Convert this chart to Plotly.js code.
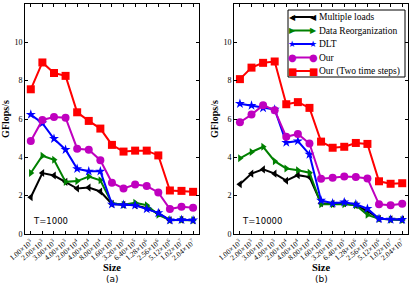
<!DOCTYPE html>
<html><head><meta charset="utf-8">
<script src="https://cdn.plot.ly/plotly-3.0.1.min.js"></script>
<style>html,body{margin:0;padding:0;background:#fff}#c{width:415px;height:285px}</style>
</head><body><div id="c"></div>
<script>
const sizeLabels = ["1.00×10<sup>3</sup>","2.00×10<sup>3</sup>","3.00×10<sup>3</sup>","4.00×10<sup>3</sup>","2.00×10<sup>4</sup>","4.00×10<sup>4</sup>","8.00×10<sup>4</sup>","1.60×10<sup>5</sup>","3.20×10<sup>5</sup>","6.40×10<sup>5</sup>","1.28×10<sup>6</sup>","2.56×10<sup>6</sup>","5.12×10<sup>6</sup>","1.02×10<sup>7</sup>","2.04×10<sup>7</sup>"];
const seriesNames = ["Multiple loads","Data Reorganization","DLT","Our","Our (Two time steps)"];

// Panel (a) T=1000
const multiA = [1.92,3.18,3.05,2.72,2.37,2.42,2.22,1.57,1.52,1.5,1.35,1.08,0.72,0.74,0.72];
const reorgA = [3.18,4.08,3.87,2.72,2.76,3.0,2.8,1.6,1.53,1.63,1.5,1.0,0.73,0.74,0.72];
const dltA   = [6.23,5.78,4.97,4.4,3.4,3.27,3.27,1.55,1.52,1.5,1.3,1.1,0.72,0.74,0.72];
const ourA   = [4.85,5.95,6.1,6.07,4.45,4.4,3.85,2.68,2.38,2.58,2.5,2.17,1.3,1.42,1.37];
const our2A  = [7.55,8.95,8.4,8.25,6.35,5.9,5.5,4.65,4.3,4.35,4.35,4.1,2.27,2.25,2.2];

// Panel (b) T=10000
const multiB = [2.6,3.15,3.37,3.15,2.78,3.07,2.97,1.6,1.57,1.6,1.5,1.2,0.8,0.77,0.75];
const reorgB = [3.95,4.28,4.55,3.8,3.42,3.33,3.2,1.55,1.55,1.55,1.5,1.0,0.8,0.75,0.73];
const dltB   = [6.8,6.7,6.58,6.5,4.77,4.85,4.15,1.75,1.6,1.66,1.55,1.32,0.8,0.76,0.75];
const ourB   = [5.83,6.23,6.72,6.45,5.07,5.22,4.72,2.88,2.93,3.0,2.97,2.9,1.55,1.5,1.58];
const our2B  = [8.08,8.68,8.93,9.0,6.77,6.88,6.58,4.82,4.5,4.55,4.75,4.7,2.75,2.62,2.65];

const xIdx = sizeLabels.map((_, i) => i);
const styles = [
  {color:'#000000', symbol:'triangle-left', size:7, glyph:'◀', gsize:8},
  {color:'#008000', symbol:'triangle-right', size:7, glyph:'▶', gsize:8},
  {color:'#0000ff', symbol:'star', size:7.5, glyph:'★', gsize:9},
  {color:'#bf00bf', symbol:'circle', size:8, glyph:'●', gsize:10},
  {color:'#ff0000', symbol:'square', size:8, glyph:'■', gsize:10}
];
const dataA = [multiA, reorgA, dltA, ourA, our2A];
const dataB = [multiB, reorgB, dltB, ourB, our2B];
const traces = [];
function mk(ys, k, xa, ya) {
  return {x:xIdx, y:ys, type:'scatter', mode:'lines+markers', name:seriesNames[k],
    xaxis:xa, yaxis:ya, showlegend:false,
    line:{color:styles[k].color, width:2},
    marker:{color:styles[k].color, symbol:styles[k].symbol, size:styles[k].size, line:{width:0}}};
}
dataA.forEach((ys,k)=>traces.push(mk(ys,k,'x','y')));
dataB.forEach((ys,k)=>traces.push(mk(ys,k,'x2','y2')));

const serif = 'Liberation Serif, DejaVu Serif, serif';
function xax(domain, anchor) {
  return {domain:domain, anchor:anchor, range:[-0.5,14.5], tickmode:'array', tickvals:xIdx, ticktext:sizeLabels,
    tickangle:-40, tickfont:{family:serif, size:7.5, color:'#000'}, ticks:'inside', ticklen:3, tickcolor:'#000',
    showline:true, linecolor:'#000', linewidth:1, mirror:'allticks', showgrid:false, zeroline:false,
    title:{text:'Size', font:{family:serif, size:10.5, color:'#000', weight:'bold'}, standoff:0}};
}
function yax(anchor) {
  return {anchor:anchor, range:[0,12], dtick:2, tick0:0, tickfont:{family:serif, size:8, color:'#000'},
    ticks:'inside', ticklen:3, tickcolor:'#000', showline:true, linecolor:'#000', linewidth:1, mirror:'allticks',
    showgrid:false, zeroline:false,
    title:{text:'GFlops/s', font:{family:serif, size:10, color:'#000', weight:'bold'}, standoff:3}};
}

// custom compact legend (layout decoration, in pixel positions converted to paper)
const M = {l:25, r:7, t:4, b:51}, W = 415, H = 285;
const pw = W - M.l - M.r, ph = H - M.t - M.b;
const px = X => (X - M.l) / pw, py = Y => (H - M.b - Y) / ph;
const shapes = [{type:'rect', xref:'paper', yref:'paper', x0:px(288), x1:px(405), y0:py(10), y1:py(77),
  fillcolor:'#fff', line:{color:'#000', width:1}, layer:'above'}];
const annotations = [];
const rowY = [17, 30.5, 44, 57.5, 71];
seriesNames.forEach((nm, k) => {
  const s = styles[k];
  shapes.push({type:'line', xref:'paper', yref:'paper', x0:px(292), x1:px(313), y0:py(rowY[k]), y1:py(rowY[k]),
    line:{color:s.color, width:2}, layer:'above'});
  [292, 313].forEach(gx => annotations.push({xref:'paper', yref:'paper', x:px(gx), y:py(rowY[k]), xanchor:'center', yanchor:'middle',
    text:s.glyph, showarrow:false, borderpad:0, font:{family:'DejaVu Sans, sans-serif', size:s.gsize, color:s.color}}));
  annotations.push({xref:'paper', yref:'paper', x:px(318), y:py(rowY[k]), xanchor:'left', yanchor:'middle',
    text:nm, showarrow:false, borderpad:0, font:{family:serif, size:9.5, color:'#000'}});
});
annotations.push(
  {xref:'x', yref:'y', x:0.0, y:0.7, xanchor:'left', yanchor:'middle', text:'T=1000', showarrow:false,
   font:{family:'DejaVu Sans, sans-serif', size:8.5, color:'#000'}},
  {xref:'x2', yref:'y2', x:0.0, y:0.7, xanchor:'left', yanchor:'middle', text:'T=10000', showarrow:false,
   font:{family:'DejaVu Sans, sans-serif', size:8.5, color:'#000'}},
  {xref:'paper', yref:'paper', x:px(112), y:py(278.5), xanchor:'center', yanchor:'middle', text:'(a)', showarrow:false,
   borderpad:0, font:{family:'DejaVu Sans, sans-serif', size:9, color:'#000'}},
  {xref:'paper', yref:'paper', x:px(321), y:py(278.5), xanchor:'center', yanchor:'middle', text:'(b)', showarrow:false,
   borderpad:0, font:{family:'DejaVu Sans, sans-serif', size:9, color:'#000'}}
);

const layout = {
  width:W, height:H, margin:M,
  paper_bgcolor:'#fff', plot_bgcolor:'#fff',
  xaxis: xax([0,0.454],'y'), yaxis: yax('x'),
  xaxis2: xax([0.546,1],'y2'), yaxis2: yax('x2'),
  showlegend:false, shapes:shapes, annotations:annotations
};
Plotly.newPlot('c', traces, layout, {displayModeBar:false, staticPlot:true});
</script></body></html>
